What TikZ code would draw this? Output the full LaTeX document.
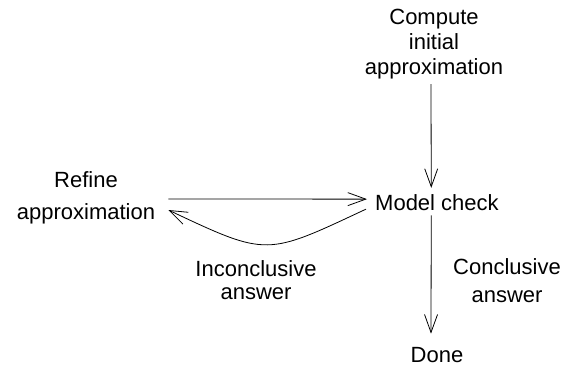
\documentclass[tikz,border=0pt]{standalone}
\usepackage{fontspec}
\setmainfont{Liberation Sans}
\usetikzlibrary{arrows.meta,calc}
\begin{document}
\begin{tikzpicture}[x=1pt,y=-1pt,
  lbl/.style={inner sep=0pt, align=center, font=\fontsize{22}{25}\selectfont},
  conn/.style={line width=0.8pt, -{Straight Barb[length=18pt,width=13pt,line width=0.8pt]}}]
  \useasboundingbox (0,0) rectangle (568,369);
  % states of the refinement loop
  \node[lbl] (init) at (434,44) {Compute\\initial\\approximation};
  \node[lbl, font=\fontsize{22}{32}\selectfont] (refine) at (86,198) {Refine\\approximation};
  \node[lbl, anchor=base west] (check) at (375,210) {Model check};
  \node[lbl, anchor=base] (done) at (437,362) {Done};
  % edge labels
  \node[lbl, font=\fontsize{22}{23}\selectfont] (inconc) at (256,280) {Inconclusive\\answer};
  \node[lbl, font=\fontsize{22}{28}\selectfont] (conc) at (507,281) {Conclusive\\answer};
  % transitions
  \draw[conn] ($(init.south)+(-3,5)$) -- ($(check.north)+(-5.7,-6)$);
  \draw[conn] ($(refine.east)+(13,1)$) -- ($(check.west)+(-8,-3)$);
  \draw[conn] ($(check.west)+(-9,7)$) .. controls (266,256) and (268,257) .. ($(refine.east)+(13,12)$);
  \draw[conn] ($(check.south)+(-5.7,5)$) -- ($(done.north)+(-6,-13)$);
\end{tikzpicture}
\end{document}
